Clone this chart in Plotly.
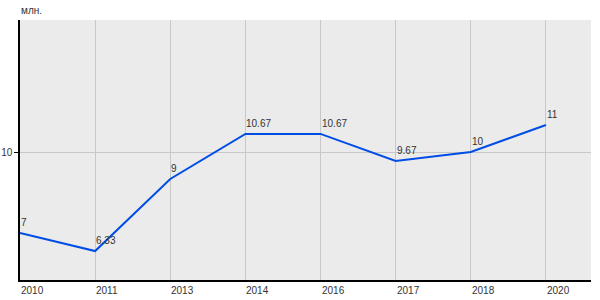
import plotly.graph_objects as go

years = ["2010", "2011", "2013", "2014", "2016", "2017", "2018", "2020"]
values = [7, 6.33, 9, 10.67, 10.67, 9.67, 10, 11]
labels = ["7", "6.33", "9", "10.67", "10.67", "9.67", "10", "11"]
y_ticks = [10]
unit = "млн."

xs = list(range(len(years)))
fig = go.Figure()
fig.add_trace(go.Scatter(x=xs, y=values, mode="lines",
                         line=dict(color="#004de6", width=2),
                         hoverinfo="skip", showlegend=False))

font = dict(family="Liberation Sans, Arial, sans-serif", size=10, color="#333333")
ann = []
for x, v, t in zip(xs, values, labels):
    ann.append(dict(x=x, y=v, text=t, showarrow=False, xanchor="left", yanchor="bottom",
                    xshift=-1, yshift=3, font=font))
for x, t in zip(xs, years):
    ann.append(dict(x=x, y=0, yref="paper", text=t, showarrow=False, xanchor="left",
                    yanchor="top", xshift=-1, yshift=-3, font=font))
ann.append(dict(x=0, y=1, xref="paper", yref="paper", text=unit, showarrow=False,
                xanchor="left", yanchor="bottom", xshift=-1, yshift=2, font=font))

fig.update_layout(
    width=600, height=300,
    margin=dict(l=20, r=9, t=20, b=20),
    paper_bgcolor="white", plot_bgcolor="#ebebeb",
    annotations=ann,
    xaxis=dict(range=[0, 7.6], tickvals=xs, showticklabels=False, automargin=False,
               showgrid=True, gridcolor="#c8c8c8", gridwidth=1,
               showline=True, linecolor="black", linewidth=1.5, zeroline=False,
               ticks=""),
    yaxis=dict(range=[5.259, 14.889], tickvals=y_ticks, ticktext=[str(v) for v in y_ticks],
               automargin=False,
               showgrid=True, gridcolor="#c8c8c8", gridwidth=1,
               showline=True, linecolor="black", linewidth=1.5, zeroline=False,
               ticks="outside", ticklen=4, tickcolor="black", tickfont=font),
)
fig.write_html("out.html")
